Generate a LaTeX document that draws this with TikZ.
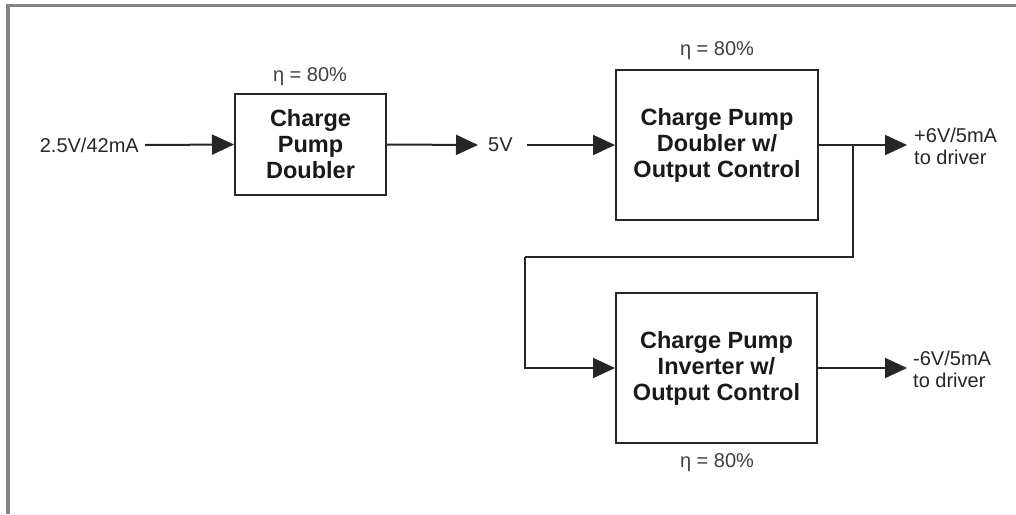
\documentclass[tikz,border=0pt]{standalone}
\usepackage{fontspec}
\setmainfont{Liberation Sans}
\usetikzlibrary{arrows.meta}
\begin{document}
\begin{tikzpicture}[x=1pt,y=-1pt,
  blk/.style={draw=black!85, line width=2pt, align=center, inner sep=0pt,
    font=\fontsize{23.5}{26}\selectfont\bfseries, text=black!90},
  lbl/.style={font=\fontsize{20}{22}\selectfont, inner sep=0pt, text=black!85},
  eta/.style={lbl, text=black!75},
  wire/.style={line width=2pt, draw=black!85},
  arr/.style={wire, -{Triangle[length=22pt,width=20pt]}},
  frame/.style={draw=black!48, line width=3.5pt}]
\useasboundingbox (0,0) rectangle (1016,514);
\draw[frame] (8,514) -- (8,5.5) -- (1016,5.5);

\node[blk, minimum width=151pt, minimum height=101pt] (b1) at (310.5,144.5) {Charge\\Pump\\Doubler};
\node[blk, minimum width=202pt, minimum height=150pt] (b2) at (717,145) {Charge Pump\\Doubler w/\\Output Control};
\node[blk, minimum width=201pt, minimum height=150pt] (b3) at (716.5,368) {Charge Pump\\Inverter w/\\Output Control};

\node[eta] (e1) at (310,77) {η = 80\%};
\node[eta] (e2) at (717,51) {η = 80\%};
\node[eta] (e3) at (717,463) {η = 80\%};

\node[lbl, anchor=east] (in) at (139,145) {2.5V/42mA};
\draw[arr] ([xshift=6pt]in.east) -- (b1.west);

\node[lbl, anchor=west] (v5) at (488,145) {5V};
\draw[arr] (b1.east) -- ([xshift=-10pt]v5.west);
\draw[arr] ([xshift=14pt]v5.east) -- (b2.west);

\node[lbl, anchor=west, align=left] (o1) at (914,146) {+6V/5mA\\to driver};
\coordinate (t1) at ([xshift=-7pt]o1.west);
\draw[arr] (b2.east) -- (t1 |- b2.east);

\coordinate (j) at ([xshift=34pt]b2.east);
\coordinate (k) at (525,257);
\draw[wire] (j) |- (k);
\draw[arr] (k) |- (b3.west);

\node[lbl, anchor=west, align=left] (o2) at (913,369) {-6V/5mA\\to driver};
\coordinate (t2) at ([xshift=-6pt]o2.west);
\draw[arr] (b3.east) -- (t2 |- b3.east);
\end{tikzpicture}
\end{document}
